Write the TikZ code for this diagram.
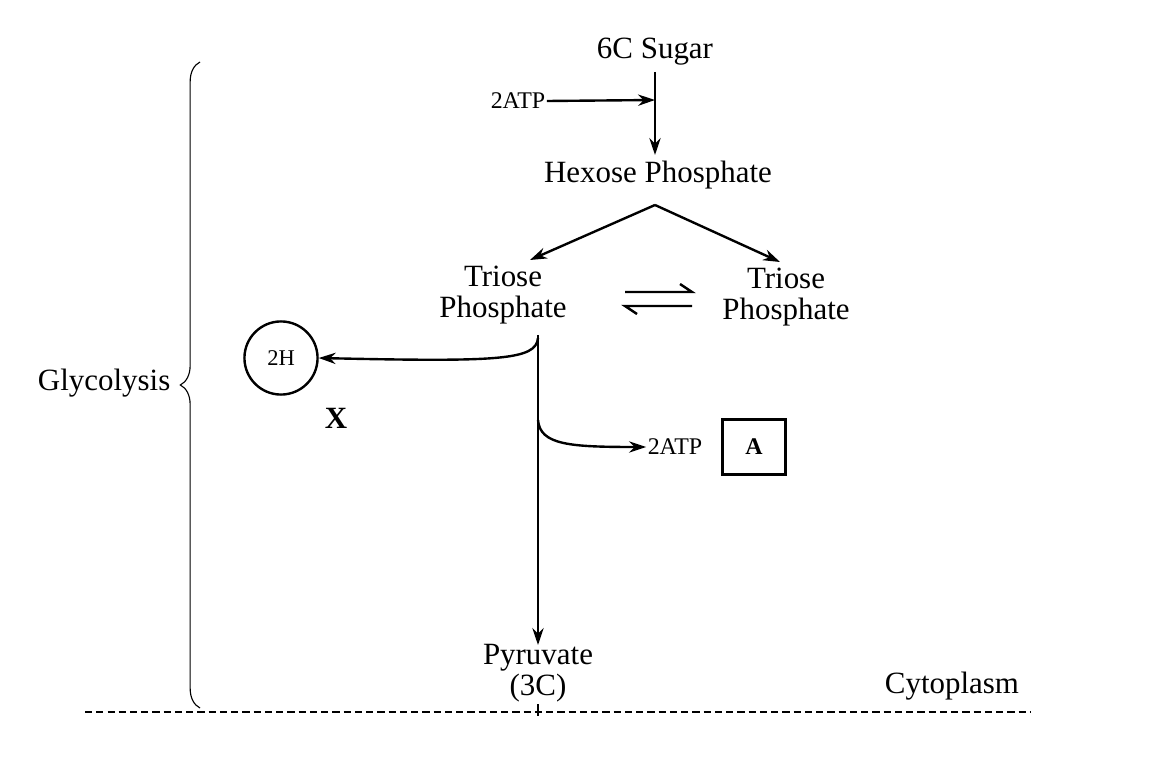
\documentclass[tikz,border=0pt]{standalone}
\usepackage{fontspec}
\setmainfont{Liberation Serif}
\usetikzlibrary{arrows.meta,decorations.pathreplacing}
\begin{document}
\begin{tikzpicture}[x=0.025cm,y=-0.025cm,
  lab/.style={font=\fontsize{22}{22}\selectfont,inner sep=1pt,align=center},
  small/.style={font=\fontsize{17}{19}\selectfont,inner sep=1pt},
  arr/.style={-{Stealth[length=12pt,width=8pt]},line width=1.7pt},
  ln/.style={line width=1.7pt}]
\useasboundingbox (0,0) rectangle (1160,768);
\node[lab] (sugar) at (655,52) {6C Sugar};
\node[small] (atp1) at (518,101) {2ATP};
\coordinate (j1) at (655,100);
\coordinate (s0) at (655,72);
\node[lab] (hex) at (658,175) {Hexose Phosphate};
\coordinate (h0) at (655,155);
\node[lab] (tl) at (503,295) {Triose\\Phosphate};
\node[lab] (tr) at (786,297) {Triose\\Phosphate};
\node[draw,circle,line width=1.7pt,minimum size=52pt,font=\fontsize{16}{18}\selectfont] (h) at (281,358) {2H};
\node[font=\fontsize{22}{22}\selectfont\bfseries] (x) at (336,418) {X};
\node[small] (atp2) at (675,447) {2ATP};
\node[draw,line width=1.7pt,minimum width=45pt,minimum height=39pt,font=\fontsize{17}{19}\selectfont\bfseries] (a) at (754,447) {A};
\node[lab] (pyr) at (538,673) {Pyruvate\\(3C)};
\node[lab,anchor=east] (gly) at (172,383) {Glycolysis};
\node[lab] (cyt) at (952,686) {Cytoplasm};
\coordinate (top) at (655,205);
\coordinate (s) at (538,335);
\coordinate (p) at (538,645);
\draw[arr] (s0) -- (h0);
\draw[arr] (atp1.east) -- (j1);
\draw[arr] (top) -- (530,260);
\draw[arr] (top) -- (780,262);
% equilibrium harpoons
\draw[ln] (625,292) -- (692,292) -- (680,284);
\draw[ln] (692,306) -- (625,306) -- (637,314);
\draw[arr] (s) -- (p);
\draw[arr] (538,338) .. controls (536,360) and (500,362) .. (h.east);
\draw[arr] (538,420) .. controls (540,445) and (570,447) .. (atp2.west);
\draw[decorate,decoration={brace,amplitude=14pt},line width=0.8pt] (200,708) -- (200,62);
\draw[dashed,line width=1.7pt,dash pattern=on 5pt off 3pt] (85,712) -- (1030,712);
\draw[line width=0.8pt] (538,704) -- (538,716);
\end{tikzpicture}
\end{document}
